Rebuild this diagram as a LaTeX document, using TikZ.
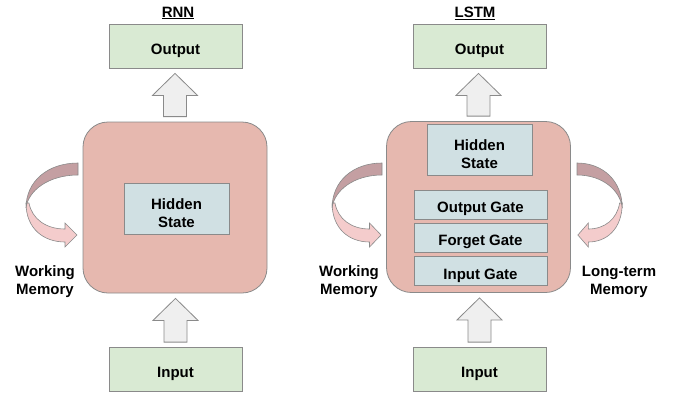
\documentclass[tikz,border=0pt]{standalone}
\usepackage{fontspec}
\setmainfont{Liberation Sans}
\usetikzlibrary{calc}

\definecolor{iogreen}{HTML}{D9EAD3}
\definecolor{cellred}{HTML}{E6B8AF}
\definecolor{stateblue}{HTML}{D0E0E3}
\definecolor{arrowgray}{HTML}{EFEFEF}
\definecolor{loopdark}{HTML}{C49FA2}
\definecolor{looplight}{HTML}{F4CCCC}
\definecolor{edgegray}{HTML}{8A8A8A}

\tikzset{
  box/.style={draw=edgegray, line width=0.8pt, inner sep=0pt, align=center,
    font=\fontsize{15}{18}\selectfont\bfseries},
  iobox/.style={box, fill=iogreen, minimum width=133pt, minimum height=44pt,
    text height=19pt, text depth=3pt},
  cell/.style={box, fill=cellred, rounded corners=25pt, minimum width=184pt, minimum height=171pt},
  statebox/.style={box, fill=stateblue, minimum width=105pt, minimum height=51pt,
    text height=37pt, text depth=0pt},
  gatebox/.style={box, fill=stateblue, minimum width=133pt, minimum height=29pt,
    text height=19pt, text depth=3pt},
  memtext/.style={align=center, inner sep=0pt, font=\fontsize{15}{18}\selectfont\bfseries},
  blockarrow/.style={draw=edgegray, line width=0.8pt, fill=arrowgray},
  memloop/.pic={
    \draw[fill=looplight, draw=edgegray, line width=0.6pt]
      (-52,40) .. controls (-52,66) and (-34,79) .. (-13,79) -- (-13,84) -- (-1,72)
      -- (-13,60) -- (-13,66) .. controls (-32,66) and (-46,56) .. (-49,40) -- cycle;
    \draw[fill=loopdark, draw=edgegray, line width=0.6pt]
      (0,0) .. controls (-30,0) and (-52,18) .. (-52,45)
      .. controls (-50,28) and (-30,12) .. (0,12) -- cycle;
  }
}

% block arrow pointing up, from node #1 to node #2
\newcommand{\blockup}[2]{%
  \draw[blockarrow] let \p1=([yshift=5pt]#1.north), \p2=([yshift=-5pt]#2.south) in
    (\x1-11.5pt,\y1) -- (\x1-11.5pt,\y2-22pt) -- (\x1-22.5pt,\y2-22pt) -- (\x1,\y2)
    -- (\x1+22.5pt,\y2-22pt) -- (\x1+11.5pt,\y2-22pt) -- (\x1+11.5pt,\y1) -- cycle;}

\begin{document}
\begin{tikzpicture}[x=1pt, y=-1pt]
  \useasboundingbox (0,0) rectangle (680,392);

  % RNN
  \node[memtext] (rnntitle) at (178,13) {\underline{RNN}};
  \node[iobox] (rnnout) at (175.5,46) {Output};
  \node[cell] (rnncell) at (175,207.5) {};
  \node[statebox] (rnnstate) at (176.5,208.5) {Hidden\\State};
  \node[iobox] (rnnin) at (175.5,369.5) {Input};
  \blockup{rnncell}{rnnout}
  \blockup{rnnin}{rnncell}
  \pic at (78,163) {memloop};
  \node[memtext] (rnnwork) at (45,281.5) {Working\\Memory};

  % LSTM
  \node[memtext] (lstmtitle) at (475,13) {\underline{LSTM}};
  \node[iobox] (lstmout) at (479.5,46) {Output};
  \node[cell] (lstmcell) at (478.5,207) {};
  \node[statebox] (lstmstate) at (479.5,149.5) {Hidden\\State};
  \node[gatebox] (outgate) at (480.5,204.5) {Output Gate};
  \node[gatebox] (forgetgate) at (480.5,237.5) {Forget Gate};
  \node[gatebox] (ingate) at (480.5,271) {Input Gate};
  \node[iobox] (lstmin) at (479.5,369.5) {Input};
  \blockup{lstmcell}{lstmout}
  \blockup{lstmin}{lstmcell}
  \pic[xscale=0.96] at (382,163) {memloop};
  \pic[xscale=-0.87] at (577,163) {memloop};
  \node[memtext] (lstmwork) at (349,281.5) {Working\\Memory};
  \node[memtext] (lstmlong) at (619,281.5) {Long-term\\Memory};
\end{tikzpicture}
\end{document}
